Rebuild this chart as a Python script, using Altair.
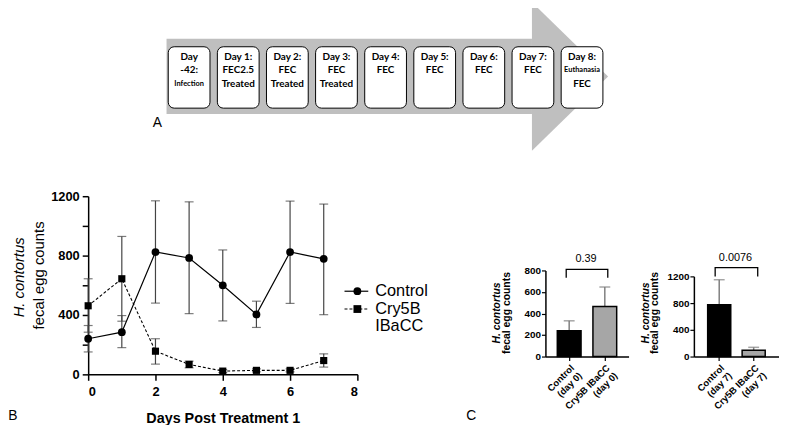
import altair as alt
import pandas as pd

# ---------------- data ----------------
step_lines = [
    ["Day", "-42:", "Infection"],
    ["Day 1:", "FEC2.5", "Treated"],
    ["Day 2:", "FEC", "Treated"],
    ["Day 3:", "FEC", "Treated"],
    ["Day 4:", "FEC"],
    ["Day 5:", "FEC"],
    ["Day 6:", "FEC"],
    ["Day 7:", "FEC"],
    ["Day 8:", "Euthanasia", "FEC"],
]
small_words = ["Infection", "Euthanasia"]

days = [0, 1, 2, 3, 4, 5, 6, 7]
control_mean = [240, 284, 824, 784, 600, 404, 824, 778]
control_lo = [151, 180, 480, 409, 360, 316, 478, 402]
control_hi = [329, 396, 1169, 1162, 838, 493, 1167, 1147]
cry_mean = [462, 644, 156, 67, 22, 27, 27, 93]
cry_lo = [284, 358, 69, 44, 12, 17, 17, 49]
cry_hi = [644, 929, 240, 89, 32, 37, 37, 138]
series_names = ["Control", "Cry5B\nIBaCC"]

day0_groups = ["Control (day 0)", "Cry5B IBaCC (day 0)"]
day0_mean = [240, 465]
day0_upper = [332, 646]
day0_p = "0.39"

day7_groups = ["Control (day 7)", "Cry5B IBaCC (day 7)"]
day7_mean = [775, 93]
day7_upper = [1150, 138]
day7_p = "0.0076"

# ---------------- layout helpers ----------------
OFF = 8
W, H = 779, 417


def px(v):
    return v - OFF


SANS = "Liberation Sans"
layers = []

# ================= Panel A : timeline arrow =================
ax_s = alt.Scale(domain=[0, 8], range=[px(191), px(588)], nice=False, zero=False)
ay_s = alt.Scale(domain=[-1, 1], range=[px(150), px(0)], nice=False, zero=False)
GRAY = "#bfbfbf"

band_df = pd.DataFrame({"x0": [-0.46], "x1": [6.98], "y0": [-0.507], "y1": [0.507]})
layers.append(
    alt.Chart(band_df).mark_rect(color=GRAY).encode(
        x=alt.X("x0:Q", scale=ax_s, axis=None), x2="x1",
        y=alt.Y("y0:Q", scale=ay_s, axis=None), y2="y1")
)
head_df = pd.DataFrame({"x": [6.98, 8.53], "top": [1.0, 0.0], "bot": [-1.0, 0.0]})
layers.append(
    alt.Chart(head_df).mark_area(color=GRAY, orient="vertical").encode(
        x=alt.X("x:Q", scale=ax_s, axis=None),
        y=alt.Y("top:Q", scale=ay_s, axis=None), y2="bot")
)
n_steps = len(step_lines)
box_df = pd.DataFrame({
    "x0": [i - 0.425 for i in range(n_steps)],
    "x1": [i + 0.425 for i in range(n_steps)],
    "y0": [-0.427] * n_steps,
    "y1": [0.4] * n_steps,
})
layers.append(
    alt.Chart(box_df).mark_rect(fill="white", stroke="black", strokeWidth=1, cornerRadius=6).encode(
        x=alt.X("x0:Q", scale=ax_s, axis=None), x2="x1",
        y=alt.Y("y0:Q", scale=ay_s, axis=None), y2="y1")
)
line_y = [0.267, 0.08, -0.107]
rows = []
for i, lines in enumerate(step_lines):
    for j, t in enumerate(lines):
        rows.append({"i": i, "ly": line_y[j], "t": t, "small": t in small_words})
txt_df = pd.DataFrame(rows)
layers.append(
    alt.Chart(txt_df[~txt_df.small]).mark_text(
        font="Lato", fontWeight="bold", fontSize=10, baseline="middle", align="center",
        fill="#000000").encode(
        x=alt.X("i:Q", scale=ax_s, axis=None),
        y=alt.Y("ly:Q", scale=ay_s, axis=None),
        text="t:N")
)
layers.append(
    alt.Chart(txt_df[txt_df.small]).mark_text(
        font="Lato", fontWeight="bold", fontSize=7.5, baseline="middle", align="center",
        fill="#000000").encode(
        x=alt.X("i:Q", scale=ax_s, axis=None),
        y=alt.Y("ly:Q", scale=ay_s, axis=None),
        text="t:N")
)

# ================= Panel B : time course =================
bx_s = alt.Scale(domain=[0, 8], range=[px(89), px(361)], nice=False, zero=False)
by_s = alt.Scale(domain=[0, 1200], range=[px(376), px(196)], nice=False, zero=False)

bdf = pd.DataFrame({
    "day": days * 2,
    "mean": control_mean + cry_mean,
    "lo": control_lo + cry_lo,
    "hi": control_hi + cry_hi,
    "series": ["Control"] * len(days) + ["Cry5B IBaCC"] * len(days),
})
ctrl = bdf[bdf.series == "Control"]
cry = bdf[bdf.series == "Cry5B IBaCC"]

axis_common = dict(
    labelFont=SANS, labelFontWeight="bold", labelColor="black",
    domainColor="black", tickColor="black", grid=False, title=None,
)

ERR = "#444444"
for sub in (ctrl, cry):
    layers.append(
        alt.Chart(sub).mark_rule(color=ERR, strokeWidth=1.2).encode(
            x=alt.X("day:Q", scale=bx_s, axis=None),
            y=alt.Y("lo:Q", scale=by_s, axis=None), y2="hi")
    )
    for f in ("lo", "hi"):
        layers.append(
            alt.Chart(sub).mark_tick(color=ERR, orient="horizontal", size=9, thickness=1.2).encode(
                x=alt.X("day:Q", scale=bx_s, axis=None),
                y=alt.Y(f + ":Q", scale=by_s, axis=None))
        )

layers.append(
    alt.Chart(ctrl).mark_line(color="black", strokeWidth=1.2).encode(
        x=alt.X("day:Q", scale=bx_s, axis=alt.Axis(
            orient="bottom", offset=px(376) - H, values=[0, 2, 4, 6, 8], format="d",
            labelFontSize=13, tickSize=6, tickWidth=1.5, domainWidth=1.5, labelPadding=5,
            **{k: v for k, v in axis_common.items() if k != "title"},
            title="Days Post Treatment 1", titleFont=SANS, titleFontWeight="bold",
            titleFontSize=14.5, titleColor="black", titleY=45, titleBaseline="middle")),
        y=alt.Y("mean:Q", scale=by_s, axis=alt.Axis(
            orient="left", offset=-px(89), values=[0, 200, 400, 600, 800, 1000, 1200], format="d",
            labelExpr="datum.value % 400 == 0 ? datum.label : ''",
            labelFontSize=13, tickSize=6, tickWidth=1.5, domainWidth=1.5, labelPadding=3,
            **axis_common)))
)
layers.append(
    alt.Chart(cry).mark_line(color="black", strokeWidth=1.1, strokeDash=[3, 2]).encode(
        x=alt.X("day:Q", scale=bx_s, axis=None),
        y=alt.Y("mean:Q", scale=by_s, axis=None))
)
layers.append(
    alt.Chart(ctrl).mark_point(shape="circle", filled=True, color="black", size=62, opacity=1).encode(
        x=alt.X("day:Q", scale=bx_s, axis=None),
        y=alt.Y("mean:Q", scale=by_s, axis=None))
)
layers.append(
    alt.Chart(cry).mark_point(shape="square", filled=True, color="black", size=52, opacity=1).encode(
        x=alt.X("day:Q", scale=bx_s, axis=None),
        y=alt.Y("mean:Q", scale=by_s, axis=None))
)

# legend for panel B
leg_df = pd.DataFrame({"name": series_names, "shape": ["circle", "square"]})
ly_s = alt.Scale(domain=series_names, range=[px(283), px(319)])
layers.append(
    alt.Chart(leg_df.iloc[[0]]).mark_rule(color="black", strokeWidth=1.2).encode(
        x=alt.value(px(348)), x2=alt.value(px(372)),
        y=alt.Y("name:N", scale=ly_s, axis=None))
)
layers.append(
    alt.Chart(leg_df.iloc[[1]]).mark_rule(color="black", strokeWidth=1.1, strokeDash=[3, 2]).encode(
        x=alt.value(px(348)), x2=alt.value(px(372)),
        y=alt.Y("name:N", scale=ly_s, axis=None))
)
layers.append(
    alt.Chart(leg_df).mark_point(filled=True, color="black", size=62, opacity=1).encode(
        x=alt.value(px(361)),
        y=alt.Y("name:N", scale=ly_s, axis=None),
        shape=alt.Shape("name:N", scale=alt.Scale(domain=series_names, range=["circle", "square"]), legend=None))
)
layers.append(
    alt.Chart(leg_df).mark_text(font=SANS, fontSize=16.5, align="left", baseline="middle",
                                lineBreak="\n", lineHeight=17, color="black").encode(
        x=alt.value(px(379)),
        y=alt.Y("name:N", scale=ly_s, axis=None),
        text="name:N")
)

# panel B y-axis title (two styles)
layers.append(
    alt.Chart(pd.DataFrame({"t": ["H. contortus"]})).mark_text(
        font=SANS, fontSize=15, fontStyle="italic", angle=270, align="center", baseline="middle", color="black"
    ).encode(x=alt.value(px(19)), y=alt.value(px(278)), text="t:N")
)
layers.append(
    alt.Chart(pd.DataFrame({"t": ["fecal egg counts"]})).mark_text(
        font=SANS, fontSize=15, angle=270, align="center", baseline="middle", color="black"
    ).encode(x=alt.value(px(39)), y=alt.value(px(276)), text="t:N")
)


# ================= Panel C : bar comparisons =================
def bar_panel(groups, means, uppers, pval, x_rng, pad_in, pad_out, y_dom, y_rng, y_vals,
              bracket_top, bracket_leg, p_y, p_x, title_x, title_y):
    df = pd.DataFrame({"g": groups, "m": means, "u": uppers})
    xs = alt.Scale(domain=groups, range=x_rng, paddingInner=pad_in, paddingOuter=pad_out)
    ys = alt.Scale(domain=y_dom, range=y_rng, nice=False, zero=True)
    out = []
    out.append(
        alt.Chart(df).mark_rule(color="#7f7f7f", strokeWidth=1.5).encode(
            x=alt.X("g:N", scale=xs, axis=None),
            y=alt.Y("m:Q", scale=ys, axis=None), y2="u")
    )
    out.append(
        alt.Chart(df).mark_tick(color="#7f7f7f", orient="horizontal", size=11, thickness=1.5).encode(
            x=alt.X("g:N", scale=xs, axis=None),
            y=alt.Y("u:Q", scale=ys, axis=None))
    )
    out.append(
        alt.Chart(df).mark_bar(stroke="black", strokeWidth=1.5).encode(
            x=alt.X("g:N", scale=xs, axis=alt.Axis(
                orient="bottom", offset=y_rng[0] - H, labelAngle=-45, labelFontSize=9.5,
                labelExpr="[substring(datum.label, 0, indexof(datum.label, ' (')), substring(datum.label, indexof(datum.label, ' (') + 1)]",
                labelLineHeight=11, tickSize=4, tickWidth=1.2, domainWidth=1.5, labelPadding=2,
                **axis_common)),
            y=alt.Y("m:Q", scale=ys, axis=alt.Axis(
                orient="left", offset=-x_rng[0], values=y_vals, format="d", labelFontSize=10,
                tickSize=4, tickWidth=1.2, domainWidth=1.5, labelPadding=1, **axis_common)),
            color=alt.Color("g:N", scale=alt.Scale(domain=groups, range=["black", "#a6a6a6"]), legend=None))
    )
    br = pd.DataFrame({
        "g": [groups[0], groups[0], groups[1], groups[1]],
        "v": [bracket_leg, bracket_top, bracket_top, bracket_leg],
        "o": [0, 1, 2, 3],
    })
    out.append(
        alt.Chart(br).mark_line(color="black", strokeWidth=1.3).encode(
            x=alt.X("g:N", scale=xs, axis=None),
            y=alt.Y("v:Q", scale=ys, axis=None),
            order="o:Q")
    )
    out.append(
        alt.Chart(pd.DataFrame({"t": [pval], "v": [p_y]})).mark_text(
            font=SANS, fontSize=11, align="center", baseline="middle", color="black").encode(
            x=alt.value(p_x), y=alt.Y("v:Q", scale=ys, axis=None), text="t:N")
    )
    out.append(
        alt.Chart(pd.DataFrame({"t": ["H. contortus"]})).mark_text(
            font=SANS, fontSize=10.5, fontWeight="bold", fontStyle="italic", angle=270,
            align="center", baseline="middle", color="black").encode(
            x=alt.value(title_x[0]), y=alt.value(title_y), text="t:N")
    )
    out.append(
        alt.Chart(pd.DataFrame({"t": ["fecal egg counts"]})).mark_text(
            font=SANS, fontSize=10.5, fontWeight="bold", angle=270,
            align="center", baseline="middle", color="black").encode(
            x=alt.value(title_x[1]), y=alt.value(title_y), text="t:N")
    )
    return out


layers += bar_panel(day0_groups, day0_mean, day0_upper, day0_p,
                    [px(551), px(635)], 1 / 3, 1 / 3, [0, 800], [px(358), px(271)],
                    [0, 200, 400, 600, 800], 809, 732, 905, px(592), [px(502.5), px(512)], px(314))
layers += bar_panel(day7_groups, day7_mean, day7_upper, day7_p,
                    [px(701), px(787)], 0.33, 0.4, [0, 1200], [px(358), px(277)],
                    [0, 400, 800, 1200], 1332, 1200, 1475, px(743), [px(652.5), px(662)], px(314))

# ================= panel letters =================
for letter, lx, lyy in (("A", 159, 122), ("B", 13, 418), ("C", 476, 418)):
    layers.append(
        alt.Chart(pd.DataFrame({"t": [letter]})).mark_text(
            font=SANS, fontSize=14, align="center", baseline="middle", color="black").encode(
            x=alt.value(px(lx)), y=alt.value(px(lyy)), text="t:N")
    )

chart = (
    alt.layer(*layers)
    .resolve_scale(x="independent", y="independent", color="independent", shape="independent", size="independent")
    .resolve_axis(x="independent", y="independent")
    .properties(width=W, height=H, padding=0, autosize="none", background="white")
    .configure_view(stroke=None)
)

chart.save("out.html", embed_options={"renderer": "svg", "actions": False})
